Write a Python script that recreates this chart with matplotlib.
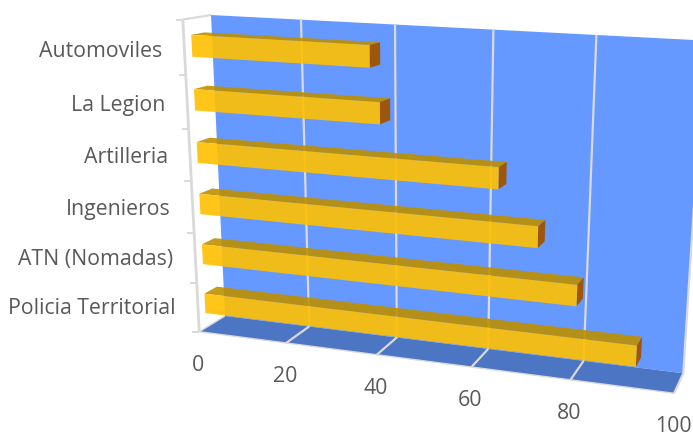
import numpy as np
import matplotlib

matplotlib.use("Agg")
import matplotlib.pyplot as plt

categories = ["Policia Territorial", "ATN (Nomadas)", "Ingenieros", "Artilleria", "La Legion", "Automoviles"]
values = [92, 80, 72, 64, 40, 38]
value_ticks = [0, 20, 40, 60, 80, 100]

# box corners on the canvas, in pixels
WALL_BL = np.array([225.0, 316.0])
WALL_BR = np.array([683.3, 373.3])
WALL_TL = np.array([211.0, 15.0])
WALL_TR = np.array([704.4, 40.6])
FLOOR_FL = np.array([199.3, 331.7])
FLOOR_FR = np.array([674.0, 394.0])

BAR_SIZE = 0.4
BAR_BACK = 0.26
BAR_FRONT = 0.74

WALL = "#6699FF"
FLOOR = "#4C75C3"
GRID = "#D9D9D9"
TEXT = "#595959"


def solve_camera():
    # p = (O + v X + h Y + d Z) / (1 + a v + b h + c d)
    A, B, C, D, F, G = WALL_BL, WALL_BR, WALL_TL, WALL_TR, FLOOR_FL, FLOOR_FR
    m = np.array(
        [
            [(D - B)[0], (D - C)[0], 0],
            [(D - B)[1], (D - C)[1], 0],
            [(G - B)[0], 0, (G - F)[0]],
            [(G - B)[1], 0, (G - F)[1]],
        ]
    )
    r = np.concatenate([B + C - A - D, B + F - A - G])
    a, b, c = np.linalg.lstsq(m, r, rcond=None)[0]
    X = B * (1 + a) - A
    Y = C * (1 + b) - A
    Z = F * (1 + c) - A
    return A, X, Y, Z, (a, b, c)


O, X, Y, Z, persp = solve_camera()


def project(value, row, depth):
    # value on the 0-100 scale, row counted from the floor, depth 0 = wall, 1 = front
    v = value / value_ticks[-1]
    h = row / len(categories)
    w = 1 + persp[0] * v + persp[1] * h + persp[2] * depth
    return (O + v * X + h * Y + depth * Z) / w


def face(ax, points, color, alpha=1.0, zorder=1):
    ax.fill(*np.array(points).T, color=color, alpha=alpha, lw=0, zorder=zorder)


def line(ax, p, q, lw=1.6, zorder=2):
    ax.plot(*np.array([p, q]).T, color=GRID, lw=lw, zorder=zorder, solid_capstyle="butt")


fig = plt.figure(figsize=(6.93, 4.37), dpi=100)
ax = fig.add_axes([0, 0, 1, 1])
ax.set_xlim(0, 693)
ax.set_ylim(437, 0)
ax.axis("off")

n = len(categories)
vmax = value_ticks[-1]

# back wall and floor
face(ax, [project(0, 0, 0), project(vmax, 0, 0), project(vmax, n, 0), project(0, n, 0)], WALL)
face(ax, [project(0, 0, 0), project(vmax, 0, 0), project(vmax, 0, 1), project(0, 0, 1)], FLOOR)

# gridlines run up the wall and forward along the floor
for t in value_ticks[1:]:
    line(ax, project(t, 0, 0), project(t, n, 0))
    line(ax, project(t, 0, 0), project(t, 0, 1))
line(ax, project(0, 0, 1), project(vmax, 0, 1), lw=1.0)

# side wall edges and the category axis with its ticks
line(ax, project(0, 0, 1), project(0, n, 1), lw=2.0)
line(ax, project(0, n, 1), project(0, n, 0), lw=1.6)
line(ax, project(0, 0, 1), project(0, 0, 0), lw=1.0)
for r in range(n + 1):
    tick = project(0, r, 1)
    line(ax, tick, tick - np.array([7, 0]), lw=1.4)

# bars, top face and end cap behind the front face
for r, val in enumerate(values):
    lo = r + 0.5 - BAR_SIZE / 2
    hi = r + 0.5 + BAR_SIZE / 2
    face(ax, [project(0, hi, BAR_FRONT), project(val, hi, BAR_FRONT), project(val, hi, BAR_BACK), project(0, hi, BAR_BACK)],
         "#BF9000", alpha=0.9, zorder=3)
    face(ax, [project(val, lo, BAR_FRONT), project(val, hi, BAR_FRONT), project(val, hi, BAR_BACK), project(val, lo, BAR_BACK)],
         "#A15300", alpha=0.95, zorder=3)
    face(ax, [project(0, lo, BAR_FRONT), project(val, lo, BAR_FRONT), project(val, hi, BAR_FRONT), project(0, hi, BAR_FRONT)],
         "#FFC000", alpha=0.9, zorder=4)

# labels, the category ones sit a little lower towards the top of the axis
for r, name in enumerate(categories):
    x, y = project(0, r + 0.5, 1)
    ax.text(x - 22, y + 1 + 0.6 * r, name, ha="right", va="center", color=TEXT, fontsize=15.3, family="Open Sans")
for t in value_ticks:
    x, y = project(t, 0, 1)
    ax.text(x - 1, y + 33.5, str(t), ha="center", va="center", color=TEXT, fontsize=15.3, family="Open Sans")

fig.savefig("out.png", dpi=100)
